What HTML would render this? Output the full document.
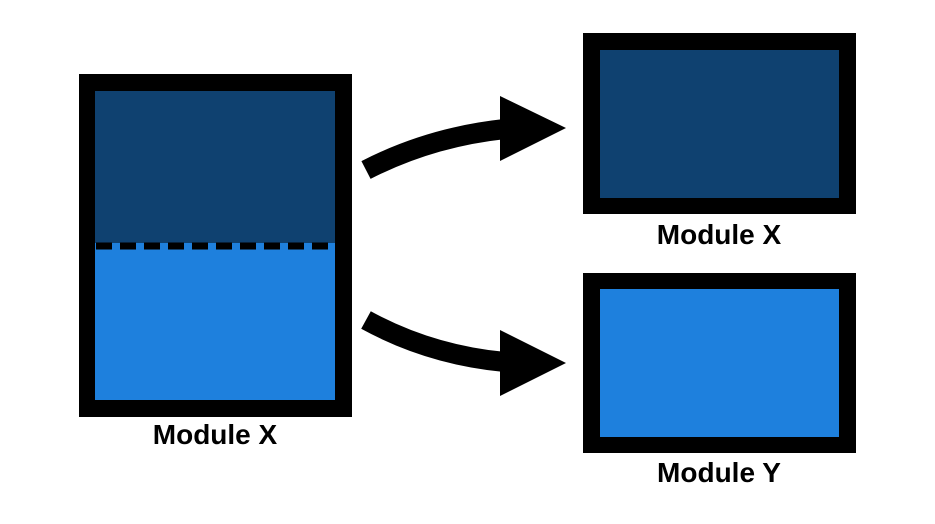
<!DOCTYPE html>
<html><head><style>
html,body{margin:0;padding:0;background:#fff;width:935px;height:524px;overflow:hidden}
.t{font-family:"Liberation Sans",sans-serif;font-weight:bold;fill:#000}
</style></head><body>
<svg width="935" height="524" viewBox="0 0 935 524" xmlns="http://www.w3.org/2000/svg">
<rect x="79" y="74" width="273" height="343" fill="#000"/>
<rect x="95" y="91" width="240" height="152" fill="#0f4170"/>
<rect x="95" y="243" width="240" height="157" fill="#1e80dd"/>
<line x1="96" y1="246" x2="335" y2="246" stroke="#000" stroke-width="7" stroke-dasharray="16 8"/>
<text class="t" x="215" y="444" font-size="28" text-anchor="middle">Module X</text>

<rect x="583" y="33" width="273" height="181" fill="#000"/>
<rect x="600" y="50" width="239" height="148" fill="#0f4170"/>
<text class="t" x="719" y="244" font-size="28" text-anchor="middle">Module X</text>

<rect x="583" y="273" width="273" height="180" fill="#000"/>
<rect x="600" y="289" width="239" height="148" fill="#1e80dd"/>
<text class="t" x="719" y="482" font-size="28" text-anchor="middle">Module Y</text>

<path d="M366 170 Q430 137 505 129" fill="none" stroke="#000" stroke-width="20"/>
<polygon points="500,96 566,128 500,161" fill="#000"/>
<path d="M366 320 Q430 355 505 362" fill="none" stroke="#000" stroke-width="20"/>
<polygon points="500,330 566,363 500,396" fill="#000"/>
</svg>
</body></html>
